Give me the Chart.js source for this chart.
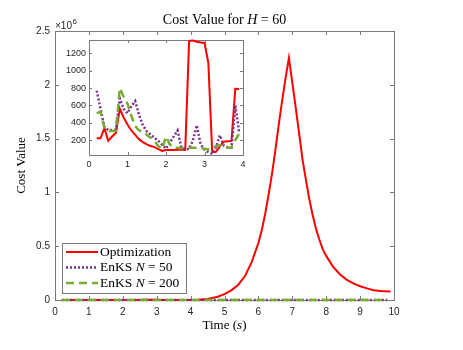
<!DOCTYPE html>
<html>
<head>
<meta charset="utf-8">
<script src="https://cdn.jsdelivr.net/npm/chart.js@4.4.1/dist/chart.umd.min.js"></script>
<style>
  html, body { margin: 0; padding: 0; background: #fff; }
  #wrap { position: relative; width: 463px; height: 350px; }
  #mainChart { position: absolute; left: 0; top: 0; }
  #insetChart { position: absolute; left: 40px; top: 30px; }
</style>
</head>
<body>
<div id="wrap">
  <canvas id="mainChart" width="463" height="350"></canvas>
  <canvas id="insetChart" width="215" height="145"></canvas>
</div>
<script>
// early part of the run (shown in the inset)
const timeEarly = [0.2, 0.3, 0.4, 0.5, 0.6, 0.7, 0.8, 0.9, 1.0, 1.1, 1.2, 1.3, 1.4, 1.5, 1.6, 1.7, 1.8, 1.9, 2.0,
                   2.1, 2.2, 2.3, 2.4, 2.5, 2.6, 2.7, 2.8, 2.9, 3.0, 3.1, 3.2, 3.3, 3.4, 3.5, 3.6, 3.7, 3.8, 3.9];
const optEarly = [219, 219, 340, 192, 240, 285, 560, 460, 380, 310, 260, 210, 175, 150, 130, 118, 95, 75, 85,
                  85, 85, 88, 88, 85, 1345, 1350, 1335, 1325, 1320, 1090, 60, 65, 130, 180, 185, 188, 792, 790];
const enks50Early = [770, 560, 350, 315, 315, 320, 680, 560, 510, 590, 650, 490, 370, 300, 265, 225, 190, 145, 100,
                     170, 240, 310, 110, 96, 96, 200, 370, 150, 90, 60, 40, 120, 255, 135, 115, 112, 600, 290];
const enks200Early = [510, 525, 340, 305, 305, 310, 800, 700, 620, 480, 360, 310, 300, 260, 225, 190, 130, 95, 240,
                      150, 110, 110, 105, 110, 112, 112, 112, 105, 100, 90, 100, 131, 140, 120, 112, 112, 200, 275];

// later part (only visible in the main axes)
const timeLate = [4.2, 4.5, 4.8, 5.0, 5.2, 5.4, 5.6, 5.8, 5.9, 6.0, 6.1, 6.2, 6.3, 6.4, 6.5, 6.6, 6.7, 6.8, 6.9,
                  7.0, 7.1, 7.2, 7.3, 7.4, 7.5, 7.6, 7.7, 7.8, 7.9, 8.0, 8.2, 8.4, 8.6, 8.8, 9.0, 9.2, 9.4, 9.6, 9.9];
const optLate = [3000, 10000, 30000, 55000, 90000, 140000, 220000, 350000, 440000, 530000, 650000, 800000, 980000,
                 1170000, 1390000, 1630000, 1850000, 2060000, 2250000, 2020000, 1790000, 1550000, 1310000, 1120000,
                 940000, 790000, 660000, 560000, 470000, 410000, 310000, 240000, 190000, 155000, 128000, 108000,
                 90000, 83000, 80000];
const timeLateEnks = [4.5, 5.5, 6.5, 7.5, 8.5, 9.8];
const enks50Late = [400, 600, 900, 700, 500, 300];
const enks200Late = [350, 550, 800, 650, 450, 280];

const mainXTicks = [0, 1, 2, 3, 4, 5, 6, 7, 8, 9, 10];
const mainYTicks = [0, 500000, 1000000, 1500000, 2000000, 2500000];
const insetXTicks = [0, 1, 2, 3, 4];
const insetYTicks = [200, 400, 600, 800, 1000, 1200];

const RED = '#ff0000', PURPLE = '#7e2f8e', GREEN = '#77ac30';
const AXIS = '#7a7a7a', TXT = '#262626';
const SERIF = "'Liberation Serif', 'Times New Roman', serif";
const SANS = "'Liberation Sans', Arial, sans-serif";

const pts = (xs, ys) => xs.map((x, i) => ({ x, y: ys[i] }));

function lineSet(label, data, color, width, dash, order) {
    return {
        label, data, order,
        borderColor: color, borderWidth: width, borderDash: dash,
        pointRadius: 0, showLine: true, fill: false, tension: 0, clip: 4
    };
}

// box + inward ticks like matlab
const framePlugin = {
    id: 'frame',
    beforeDatasetsDraw(chart, args, opts) {
        const { ctx, chartArea: { left, right, top, bottom }, scales: { x, y } } = chart;
        ctx.save();
        ctx.fillStyle = '#fff';
        ctx.fillRect(left, top, right - left, bottom - top);
        ctx.strokeStyle = AXIS;
        ctx.lineWidth = 1;
        ctx.strokeRect(Math.round(left) + 0.5, Math.round(top) + 0.5, Math.round(right - left), Math.round(bottom - top));
        const len = opts.len;
        ctx.beginPath();
        x.ticks.forEach(t => {
            const px = Math.round(x.getPixelForValue(t.value)) + 0.5;
            ctx.moveTo(px, bottom); ctx.lineTo(px, bottom - len);
            ctx.moveTo(px, top); ctx.lineTo(px, top + len);
        });
        y.ticks.forEach(t => {
            const py = Math.round(y.getPixelForValue(t.value)) + 0.5;
            ctx.moveTo(left, py); ctx.lineTo(left + len, py);
            ctx.moveTo(right, py); ctx.lineTo(right - len, py);
        });
        ctx.stroke();
        ctx.restore();
    }
};

// draws runs of [text, italic] centred on cx
function drawMixed(ctx, runs, cx, cy, size) {
    const fontOf = it => (it ? 'italic ' : '') + size + 'px ' + SERIF;
    let total = 0;
    runs.forEach(r => { ctx.font = fontOf(r[1]); total += ctx.measureText(r[0]).width; });
    let xx = cx - total / 2;
    runs.forEach(r => {
        ctx.font = fontOf(r[1]);
        ctx.fillText(r[0], xx, cy);
        xx += ctx.measureText(r[0]).width;
    });
}

const decorPlugin = {
    id: 'decor',
    afterDraw(chart) {
        const { ctx, chartArea: { left, right, top, bottom } } = chart;
        ctx.save();
        ctx.fillStyle = '#000';
        ctx.textAlign = 'left';
        ctx.textBaseline = 'middle';
        const cx = (left + right) / 2;
        drawMixed(ctx, [['Cost Value for ', false], ['H', true], [' = 60', false]], cx, 20, 14);
        drawMixed(ctx, [['Time (', false], ['s', true], [')', false]], cx, 326, 13);

        // y label
        ctx.save();
        ctx.translate(22, (top + bottom) / 2);
        ctx.rotate(-Math.PI / 2);
        ctx.textAlign = 'center';
        ctx.font = '13px ' + SERIF;
        ctx.fillText('Cost Value', 0, 0);
        ctx.restore();

        // exponent
        ctx.fillStyle = TXT;
        ctx.font = '10px ' + SANS;
        const base = '\u00d710';
        ctx.fillText(base, left, top - 5);
        const bw = ctx.measureText(base).width;
        ctx.font = '8px ' + SANS;
        ctx.fillText('6', left + bw + 0.5, top - 9);

        // legend
        const lx = 62, ly = 243, lw = 124, lh = 50;
        ctx.fillStyle = '#fff';
        ctx.fillRect(lx, ly, lw, lh);
        ctx.strokeStyle = AXIS;
        ctx.lineWidth = 1;
        ctx.strokeRect(lx + 0.5, ly + 0.5, lw, lh);
        const rows = [
            { runs: [['Optimization', false]], color: RED, width: 2, dash: [] },
            { runs: [['EnKS ', false], ['N', true], [' = 50', false]], color: PURPLE, width: 2.5, dash: [2, 2] },
            { runs: [['EnKS ', false], ['N', true], [' = 200', false]], color: GREEN, width: 2.5, dash: [8, 5] }
        ];
        rows.forEach((r, i) => {
            const yy = ly + 9 + i * 15.5;
            ctx.beginPath();
            ctx.strokeStyle = r.color;
            ctx.lineWidth = r.width;
            ctx.setLineDash(r.dash);
            ctx.moveTo(66, yy); ctx.lineTo(98, yy);
            ctx.stroke();
            ctx.setLineDash([]);
            ctx.fillStyle = '#000';
            let xx = 100;
            r.runs.forEach(run => {
                ctx.font = (run[1] ? 'italic ' : '') + '13.5px ' + SERIF;
                ctx.fillText(run[0], xx, yy);
                xx += ctx.measureText(run[0]).width;
            });
        });
        ctx.restore();
    }
};

function fixedTicks(list) {
    return scale => { scale.ticks = list.map(v => ({ value: v })); };
}

const mainChart = new Chart(document.getElementById('mainChart'), {
    type: 'scatter',
    data: {
        datasets: [
            lineSet('Optimization', pts(timeEarly.concat(timeLate), optEarly.concat(optLate)), RED, 2, [], 2),
            lineSet('EnKS N = 50', pts(timeEarly.concat(timeLateEnks), enks50Early.concat(enks50Late)), PURPLE, 2.5, [2, 2], 1),
            lineSet('EnKS N = 200', pts(timeEarly.concat(timeLateEnks), enks200Early.concat(enks200Late)), GREEN, 2.5, [8, 5], 0)
        ]
    },
    options: {
        responsive: false,
        animation: false,
        layout: { padding: { left: 0, top: 31, right: 69, bottom: 0 } },
        plugins: { legend: { display: false }, tooltip: { enabled: false }, frame: { len: 4 } },
        scales: {
            x: {
                type: 'linear', min: 0, max: 10,
                afterBuildTicks: fixedTicks(mainXTicks),
                afterFit: s => { s.height = 50; },
                grid: { display: false, drawTicks: false },
                border: { display: false },
                ticks: { color: TXT, font: { family: SANS, size: 10 }, padding: 6, maxRotation: 0, autoSkip: false,
                         callback: v => String(v) }
            },
            y: {
                type: 'linear', min: 0, max: 2500000,
                afterBuildTicks: fixedTicks(mainYTicks),
                afterFit: s => { s.width = 55; },
                grid: { display: false, drawTicks: false },
                border: { display: false },
                ticks: { color: TXT, font: { family: SANS, size: 10 }, padding: 5, autoSkip: false,
                         callback: v => String(v / 1e6) }
            }
        }
    },
    plugins: [framePlugin, decorPlugin]
});

const insetChart = new Chart(document.getElementById('insetChart'), {
    type: 'scatter',
    data: {
        datasets: [
            lineSet('Optimization', pts(timeEarly, optEarly), RED, 2, [], 2),
            lineSet('EnKS N = 50', pts(timeEarly, enks50Early), PURPLE, 2.5, [2, 2], 1),
            lineSet('EnKS N = 200', pts(timeEarly, enks200Early), GREEN, 2.5, [8, 5], 0)
        ]
    },
    options: {
        responsive: false,
        animation: false,
        layout: { padding: { left: 0, top: 10, right: 12, bottom: 0 } },
        plugins: { legend: { display: false }, tooltip: { enabled: false }, frame: { len: 3 } },
        scales: {
            x: {
                type: 'linear', min: 0, max: 4,
                afterBuildTicks: fixedTicks(insetXTicks),
                afterFit: s => { s.height = 20; },
                grid: { display: false, drawTicks: false },
                border: { display: false },
                ticks: { color: TXT, font: { family: SANS, size: 9 }, padding: 4, maxRotation: 0, autoSkip: false,
                         callback: v => String(v) }
            },
            y: {
                type: 'linear', min: 27, max: 1355,
                afterBuildTicks: fixedTicks(insetYTicks),
                afterFit: s => { s.width = 49; },
                grid: { display: false, drawTicks: false },
                border: { display: false },
                ticks: { color: TXT, font: { family: SANS, size: 9 }, padding: 3, autoSkip: false,
                         callback: v => String(v) }
            }
        }
    },
    plugins: [framePlugin]
});
</script>
</body>
</html>
